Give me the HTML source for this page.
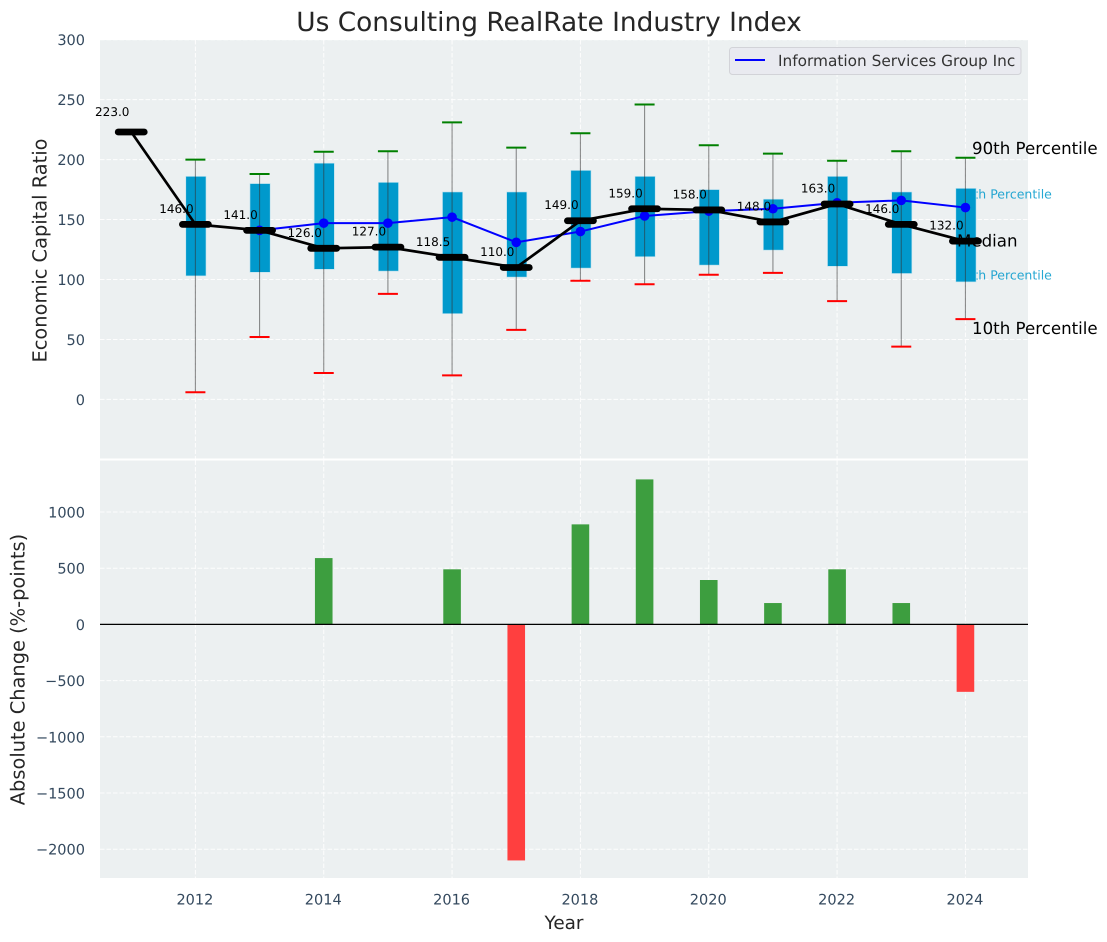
<!DOCTYPE html>
<html lang="en">
<head>
<meta charset="utf-8">
<title>Us Consulting RealRate Industry Index</title>
<style>
html,body{margin:0;padding:0;background:#fff;width:1107px;height:942px;overflow:hidden}
svg{display:block;font-family:"DejaVu Sans","Liberation Sans",sans-serif;text-rendering:geometricPrecision}
</style>
</head>
<body>
<svg id="chart" xmlns="http://www.w3.org/2000/svg" width="1107" height="942" viewBox="0 0 1107 942">
<text x="549" y="31" text-anchor="middle" font-size="26.4" fill="#262626">Us Consulting RealRate Industry Index</text>
<text transform="translate(46.5,250.5) rotate(-90)" text-anchor="middle" font-size="19.4" fill="#262626">Economic Capital Ratio</text>
<text transform="translate(24.5,669.5) rotate(-90)" text-anchor="middle" font-size="19.4" fill="#262626">Absolute Change (%-points)</text>
<text x="564" y="929" text-anchor="middle" font-size="18.4" fill="#262626">Year</text>
<g id="layer"></g>
</svg>
<script>
const years = [2012,2013,2014,2015,2016,2017,2018,2019,2020,2021,2022,2023,2024];
const p90 = [200,188,206.5,207,231,210,222,246,212,205,199,207,201.5];
const p75 = [186,180,197,181,173,173,191,186,175,167,186,173,176];
const p25 = [103,106,108.5,107,71.5,102,109.5,119,112,124.5,111,105,98];
const p10 = [6,52,22,88,20,58,99,96,104,105.5,82,44,67];
const medianYears = [2011,2012,2013,2014,2015,2016,2017,2018,2019,2020,2021,2022,2023,2024];
const medians = [223,146,141,126,127,118.5,110,149,159,158,148,163,146,132];
const companyYears = [2013,2014,2015,2016,2017,2018,2019,2020,2021,2022,2023,2024];
const companyValues = [141,147,147,152,131,140,153,157,159,164,166,160];
const changeYears = [2014,2016,2017,2018,2019,2020,2021,2022,2023,2024];
const changeValues = [590,490,-2100,890,1290,395,190,490,190,-600];
const xTicks = [2012,2014,2016,2018,2020,2022,2024];
const topYTicks = [0,50,100,150,200,250,300];
const bottomYTicks = [-2000,-1500,-1000,-500,0,500,1000];
const legendLabel = "Information Services Group Inc";

const NS = "http://www.w3.org/2000/svg";
const layer = document.getElementById("layer");
const X = yr => 195.4 + (yr - 2012) * 64.17;
const YT = v => 399.4 - 1.199 * v;
const YB = v => 624.4 - 0.1124 * v;
function mk(tag, attrs, parent) {
  const e = document.createElementNS(NS, tag);
  for (const k in attrs) e.setAttribute(k, attrs[k]);
  (parent || layer).appendChild(e);
  return e;
}
function label(x, y, str, size, fill, anchor) {
  const e = mk("text", {x: x, y: y, "font-size": size, fill: fill, "text-anchor": anchor || "start"});
  e.textContent = str;
  
  return e;
}

/* axes backgrounds */
let el = mk("rect", {x: 100, y: 40, width: 928, height: 418.5, fill: "#ecf0f1"});


el = mk("rect", {x: 100, y: 460.5, width: 928, height: 417.5, fill: "#ecf0f1"});



/* grid */
const gridStyle = {stroke: "#fff", "stroke-width": 1, "stroke-dasharray": "4.5 2", opacity: 0.9};
xTicks.forEach(t => {
  let g = mk("line", Object.assign({x1: X(t), x2: X(t), y1: 40, y2: 458.5}, gridStyle));
  
  
  g = mk("line", Object.assign({x1: X(t), x2: X(t), y1: 460.5, y2: 878}, gridStyle));
  
  
  const tl = label(X(t) - 0.5, 904.5, String(t), 14.5, "#34495e", "middle");
  
});
topYTicks.forEach(t => {
  const g = mk("line", Object.assign({x1: 100, x2: 1028, y1: YT(t), y2: YT(t)}, gridStyle));
  
  
  const tl = label(85, YT(t) + 5.5, String(t), 14.5, "#34495e", "end");
  
});
bottomYTicks.forEach(t => {
  const g = mk("line", Object.assign({x1: 100, x2: 1028, y1: YB(t), y2: YB(t)}, gridStyle));
  
  
  const tl = label(85, YB(t) + 5.5, String(t).replace("-", "\u2212"), 14.5, "#34495e", "end");
  
});

/* percentile annotations that sit behind the last box */
const lastIdx = years.length - 1;
el = label(957.5, YT(p75[lastIdx]) + 10, "75th Percentile", 12.5, "#0099cc");
el.setAttribute('opacity', '0.85');

el = label(957.5, YT(p25[lastIdx]) - 2.5, "25th Percentile", 12.5, "#0099cc");
el.setAttribute('opacity', '0.85');


/* box plot */
years.forEach((yr, i) => {
  const x = X(yr);
  const box = mk("rect", {x: x - 9.6, y: YT(p75[i]), width: 20.2, height: YT(p25[i]) - YT(p75[i]), fill: "#0099cc", stroke: "#bfe3ef", "stroke-width": 0.6});
  
  
  const whisk = mk("line", {x1: x, x2: x, y1: YT(p90[i]), y2: YT(p10[i]), stroke: "#333", "stroke-width": 1.1, opacity: 0.55});
  
  
  const top = mk("line", {x1: x - 10, x2: x + 10, y1: YT(p90[i]), y2: YT(p90[i]), stroke: "#008000", "stroke-width": 2});
  
  
  const bot = mk("line", {x1: x - 10, x2: x + 10, y1: YT(p10[i]), y2: YT(p10[i]), stroke: "#ff0000", "stroke-width": 2});
  
  
});

/* company series */
el = mk("polyline", {points: companyYears.map((y, i) => X(y) + "," + YT(companyValues[i])).join(" "), fill: "none", stroke: "#0000ff", "stroke-width": 2});


companyYears.forEach((y, i) => {
  const d = mk("circle", {cx: X(y), cy: YT(companyValues[i]), r: 4.8, fill: "#0000ff"});
  
  
});

/* right-hand annotations */
el = label(972, YT(p90[lastIdx]) - 4, "90th Percentile", 16.65, "#000");

el = label(972, YT(p10[lastIdx]) + 15, "10th Percentile", 16.65, "#000");

el = label(957, YT(medians[medians.length - 1]) + 5.5, "Median", 16.65, "#000");


/* median series */
el = mk("polyline", {points: medianYears.map((y, i) => X(y) + "," + YT(medians[i])).join(" "), fill: "none", stroke: "#000", "stroke-width": 2.7});


medianYears.forEach((y, i) => {
  const m = mk("line", {x1: X(y) - 13, x2: X(y) + 13, y1: YT(medians[i]), y2: YT(medians[i]), stroke: "#000", "stroke-width": 6.8, "stroke-linecap": "round"});
  
  
  const lift = i === 0 ? 16 : 11.5;
  const t = label(X(y) - 19, YT(medians[i]) - lift, medians[i].toFixed(1), 12, "#000", "middle");
  
});

/* change bars */
changeYears.forEach((y, i) => {
  const v = changeValues[i];
  const y0 = Math.min(YB(0), YB(v));
  const r = mk("rect", {x: X(y) - 8.8, y: y0, width: 17.6, height: Math.abs(YB(v) - YB(0)), fill: v >= 0 ? "#3d9e3f" : "#ff3f3f"});
  
  
});
el = mk("line", {x1: 100, x2: 1028, y1: YB(0), y2: YB(0), stroke: "#000", "stroke-width": 1.2});



/* legend */
el = mk("rect", {x: 729.5, y: 47.5, width: 291.5, height: 27, rx: 3, fill: "#e9eaf0", stroke: "#d2d3d8", "stroke-width": 1});


el = mk("line", {x1: 735, x2: 765, y1: 60, y2: 60, stroke: "#0000ff", "stroke-width": 2});


el = label(778, 66, legendLabel, 15.33, "#333");

</script>
</body>
</html>
